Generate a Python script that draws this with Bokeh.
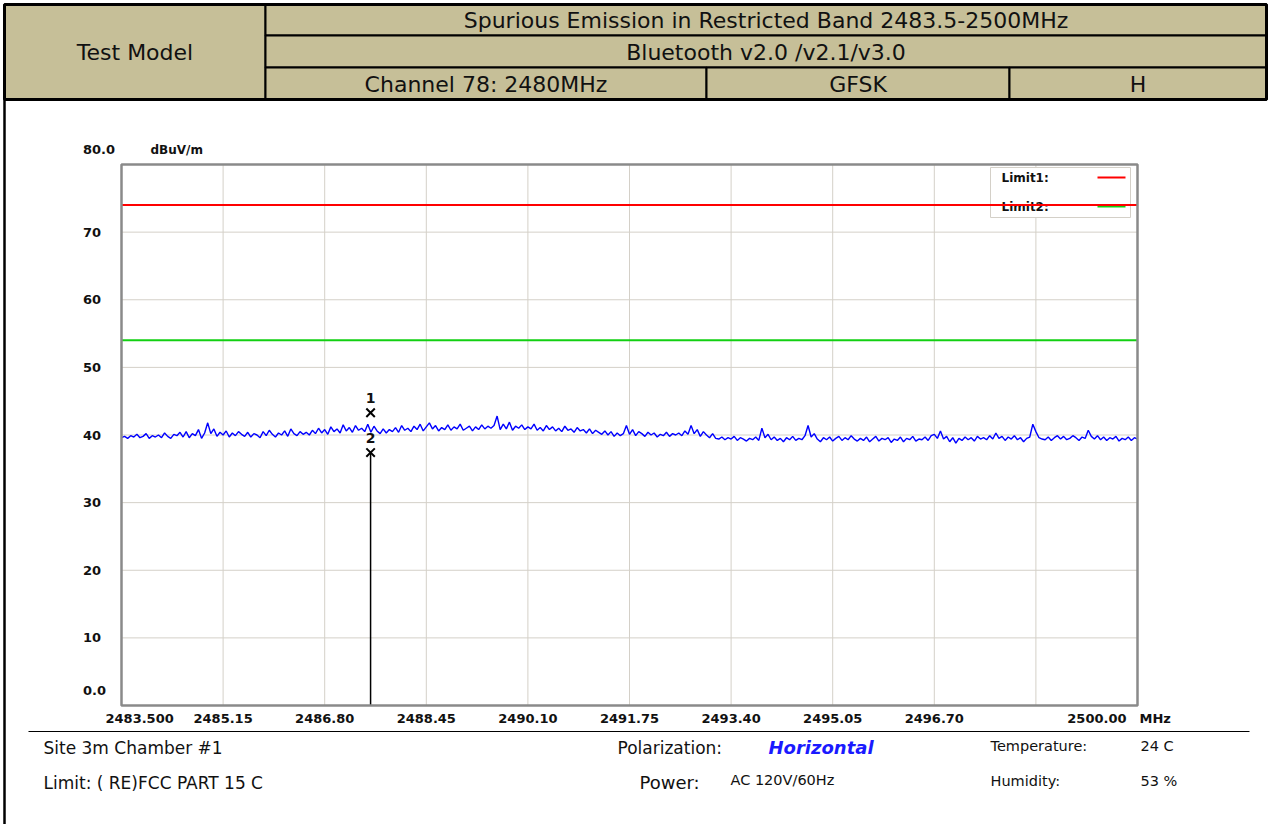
from bokeh.plotting import figure
from bokeh.models import Range1d
from bokeh.embed import file_html
from bokeh.resources import INLINE
from bokeh.core.properties import value

# ---------------- data ----------------
freq_start = 2483.5
freq_stop = 2500.0
freq_step = 0.05
level_dbuv = [
    39.6, 39.8, 39.5, 39.9, 39.7, 40.1, 39.6, 39.8, 40.2, 39.5, 39.9, 39.7, 40.0, 39.6, 40.3, 39.8, 39.5, 40.1, 39.9, 40.4,
    39.7, 40.5, 39.6, 40.2, 39.9, 40.8, 39.5, 40.3, 41.8, 40.2, 40.9, 39.8, 40.4, 40.0, 40.6, 39.7, 40.3, 39.9, 40.5, 40.1,
    39.8, 40.4, 39.7, 40.2, 40.0, 39.6, 40.5, 39.9, 40.7, 40.1, 39.7, 40.3, 40.0, 40.6, 39.8, 40.9, 40.2, 39.9, 40.5, 40.1,
    40.4, 40.0, 40.7, 40.2, 41.0, 40.3, 40.8, 40.1, 41.2, 40.5, 40.9, 40.3, 41.5, 40.6, 41.1, 40.4, 41.4, 40.7, 41.0, 40.5,
    41.6, 40.4, 41.3, 40.6, 40.2, 40.9, 40.3, 40.8, 40.5, 41.1, 40.4, 41.4, 40.7, 41.0, 40.5, 41.3, 40.8, 41.6, 40.6, 41.2,
    41.8, 40.9, 41.4, 40.6, 41.1, 40.8, 41.5, 40.7, 41.2, 40.9, 41.6, 40.7, 41.0, 41.3, 40.6, 41.2, 40.8, 41.5, 40.9, 41.3,
    41.0, 41.4, 42.8, 40.8, 41.6, 40.9, 41.9, 40.7, 41.3, 41.0, 41.5, 40.8, 41.2, 40.9, 41.6, 40.7, 41.1, 40.6, 41.4, 40.8,
    41.2, 40.6, 41.0, 40.5, 41.3, 40.7, 40.9, 40.4, 41.1, 40.6, 40.8, 40.3, 40.9, 40.2, 40.7, 40.4, 40.1, 40.6, 40.0, 40.5,
    39.8, 40.3, 39.9, 40.2, 41.4, 40.1, 40.8, 39.9, 40.5, 40.2, 39.8, 40.4, 40.0, 40.3, 39.7, 40.1, 39.9, 40.4, 39.8, 40.2,
    40.0, 40.3, 39.9, 40.6, 40.1, 41.4, 40.2, 40.8, 39.8, 40.5, 40.0, 39.6, 40.2, 39.5, 39.4, 39.7, 39.3, 39.6, 39.4, 39.8,
    39.2, 39.6, 39.4, 39.1, 39.5, 39.3, 39.7, 39.2, 41.0, 39.6, 40.1, 39.3, 39.7, 39.2, 39.5, 39.0, 39.6, 39.3, 39.8, 39.2,
    39.5, 39.3, 39.9, 41.4, 39.7, 40.2, 39.4, 39.0, 39.6, 39.3, 39.7, 39.1, 39.5, 39.8, 39.2, 39.6, 39.3, 39.9, 39.4, 39.1,
    39.5, 39.2, 39.7, 39.0, 39.4, 39.8, 39.1, 39.5, 39.3, 39.6, 38.9, 39.4, 39.2, 39.7, 39.0, 39.5, 39.3, 39.8, 39.1, 39.4,
    39.3, 39.7, 39.2, 39.9, 40.1, 39.5, 40.6, 39.4, 39.8, 39.0, 39.6, 38.8, 39.5, 39.2, 39.7, 39.3, 39.6, 39.1, 39.8, 39.4,
    39.6, 39.3, 39.9, 39.4, 40.3, 39.5, 39.8, 39.2, 39.7, 39.4, 39.9, 39.3, 39.6, 39.0, 39.5, 39.7, 41.6, 40.5, 39.6, 39.4,
    39.3, 39.7, 39.2, 39.6, 39.9, 39.4, 39.8, 39.3, 39.5, 39.9, 39.6, 39.2, 39.7, 39.5, 40.7, 39.8, 39.4, 39.9, 39.3, 39.7,
    39.2, 39.6, 39.4, 39.8, 39.1, 39.5, 39.3, 39.7, 39.2, 39.6, 39.4,
]
x_ticks = [2483.5, 2485.15, 2486.80, 2488.45, 2490.10, 2491.75, 2493.40, 2495.05, 2496.70, 2498.35, 2500.0]
x_tick_labels = ["2483.500", "2485.15", "2486.80", "2488.45", "2490.10", "2491.75",
                 "2493.40", "2495.05", "2496.70", "", "2500.00"]
y_min, y_max = 0.0, 80.0
y_ticks = [0, 10, 20, 30, 40, 50, 60, 70, 80]
y_tick_labels = ["0.0", "10", "20", "30", "40", "50", "60", "70", "80.0"]
y_unit = "dBuV/m"
x_unit = "MHz"
limit_names = ["Limit1:", "Limit2:"]
limit_values = [74.0, 54.0]
marker_ids = ["1", "2"]
marker_freq = [2487.545, 2487.545]
marker_level = [43.3, 37.4]

header_title = "Spurious Emission in Restricted Band 2483.5-2500MHz"
header_model = "Test Model"
header_tech = "Bluetooth v2.0 /v2.1/v3.0"
header_channel = "Channel 78: 2480MHz"
header_mod = "GFSK"
header_pol = "H"

footer_site = "Site  3m Chamber #1"
footer_limit = "Limit: ( RE)FCC PART 15 C"
footer_pol_label, footer_pol_value = "Polarization:", "Horizontal"
footer_power_label, footer_power_value = "Power:", "AC 120V/60Hz"
footer_temp_label, footer_temp_value = "Temperature:", "24 C"
footer_hum_label, footer_hum_value = "Humidity:", "53 %"

freq = [freq_start + i * freq_step for i in range(len(level_dbuv))]

# ---------------- layout geometry ----------------
W, H = 1268, 824
REF_W, REF_H = 1268.0, 824.0          # design space (pixels of the sheet)
BOX_L, BOX_R, BOX_T, BOX_B = 121.0, 1137.0, 164.0, 705.0   # plot box on the sheet
SX, SY = W / REF_W, H / REF_H
mhz_per_px = (freq_stop - freq_start) / (BOX_R - BOX_L)
db_per_px = (y_max - y_min) / (BOX_B - BOX_T)

FONT = "DejaVu Sans"
INK = "#111111"
limit_colors = ["#ff0000", "#12d012"]

p = figure(width=W, height=H, x_range=Range1d(0, REF_W), y_range=Range1d(REF_H, 0),
           output_backend="svg", toolbar_location=None, min_border=0,
           x_axis_type=None, y_axis_type=None,
           background_fill_color="white", border_fill_color="white", outline_line_color=None)
p.grid.visible = False
p.extra_x_ranges["freq"] = Range1d(freq_start - BOX_L * mhz_per_px, freq_stop + (REF_W - BOX_R) * mhz_per_px)
p.extra_y_ranges["db"] = Range1d(y_min - (REF_H - BOX_B) * db_per_px, y_max + BOX_T * db_per_px)
C = dict(x_range_name="freq", y_range_name="db")

def txt(xs, ys, texts, size, style="normal", color=INK, align="left", xo=0, yo=0, ranges=None, baseline="middle"):
    kw = ranges or {}
    p.text(x=xs, y=ys, text=texts, text_font=value(FONT), text_font_size=size, text_font_style=style,
           text_color=color, text_align=align, text_baseline=baseline, x_offset=xo, y_offset=yo, **kw)

# ---------------- chart ----------------
# grid
gx = x_ticks[1:-1]
p.segment(x0=gx, y0=[y_min] * len(gx), x1=gx, y1=[y_max] * len(gx), line_color="#d4d0c8", line_width=1, **C)
gy = y_ticks[1:-1]
p.segment(x0=[freq_start] * len(gy), y0=gy, x1=[freq_stop] * len(gy), y1=gy, line_color="#d4d0c8", line_width=1, **C)

# legend box (drawn under the limit lines)
p.quad(left=[990], right=[1130], top=[167], bottom=[217], fill_color="white", line_color="#d4d0c8", line_width=1)
txt([1001, 1001], [177, 206], limit_names, "12px", "bold")
p.segment(x0=[1097, 1097], y0=[177, 206], x1=[1125, 1125], y1=[177, 206], line_color=limit_colors, line_width=2)

# limit lines
p.segment(x0=[freq_start] * 2, y0=limit_values, x1=[freq_stop] * 2, y1=limit_values,
          line_color=limit_colors, line_width=2, **C)

# trace
p.line(freq, level_dbuv, line_color="#0000ff", line_width=1.4, **C)

# markers
p.segment(x0=[marker_freq[1]], y0=[y_min], x1=[marker_freq[1]], y1=[marker_level[1]],
          line_color="black", line_width=1.5, **C)
p.scatter(marker_freq, marker_level, marker="x", size=12, line_color="black", line_width=2, **C)
txt(marker_freq, marker_level, marker_ids, "14px", "bold", align="center", yo=-15, ranges=C)

# plot box outline
p.quad(left=[freq_start], right=[freq_stop], bottom=[y_min], top=[y_max], fill_color=None,
       line_color="#8a8a8a", line_width=2.5, **C)

# tick labels
txt(x_ticks[1:-1], [y_min] * 9, x_tick_labels[1:-1], "13px", "bold", align="center", yo=13 * SY, ranges=C)
txt([x_ticks[0]], [y_min], [x_tick_labels[0]], "13px", "bold", align="left", xo=-16 * SX, yo=13 * SY, ranges=C)
txt([x_ticks[-1]], [y_min], [x_tick_labels[-1]], "13px", "bold", align="right", xo=-11 * SX, yo=13 * SY, ranges=C)
txt([x_ticks[-1]], [y_min], [x_unit], "13px", "bold", align="left", xo=2 * SX, yo=13 * SY, ranges=C)
txt([freq_start] * 7, y_ticks[1:-1], y_tick_labels[1:-1], "13px", "bold", xo=-38.5 * SX, ranges=C)
txt([freq_start] * 2, [y_ticks[0], y_ticks[-1]], [y_tick_labels[0], y_tick_labels[-1]], "13px", "bold",
    xo=-38.5 * SX, yo=-15 * SY, ranges=C)
txt([freq_start], [y_max], [y_unit], "12px", "bold", xo=29 * SX, yo=-15 * SY, ranges=C)

# ---------------- header table ----------------
TAN = "#c6bf98"
p.quad(left=[4, 265, 265, 265, 706, 1009], right=[265, 1266, 1266, 706, 1009, 1266],
       top=[4, 4, 35, 67, 67, 67], bottom=[99, 35, 67, 99, 99, 99],
       fill_color=TAN, line_color="black", line_width=2)
p.quad(left=[4], right=[1266], top=[4], bottom=[99], fill_color=None, line_color="black", line_width=3)
txt([134.5, 765.5, 765.5, 485.5, 857.5, 1137.5], [52, 20, 52, 84, 84, 84],
    [header_model, header_title, header_tech, header_channel, header_mod, header_pol], "22px", align="center")

# ---------------- page border / footer ----------------
p.segment(x0=[4, 28], y0=[99, 731], x1=[4, 1249], y1=[824, 731], line_color="black", line_width=[2.5, 1.2])
txt([43, 43], [747, 782], [footer_site, footer_limit], "17px")
txt([617], [747], [footer_pol_label], "17px")
txt([768], [747], [footer_pol_value], "18px", "bold italic", color="#1a1aff")
txt([639], [782], [footer_power_label], "18px")
txt([730], [779], [footer_power_value], "14.5px")
txt([990, 990], [745, 780], [footer_temp_label, footer_hum_label], "14.5px")
txt([1140, 1140], [745, 780], [footer_temp_value, footer_hum_value], "14.5px")

open("out.html", "w").write(file_html(p, INLINE))
